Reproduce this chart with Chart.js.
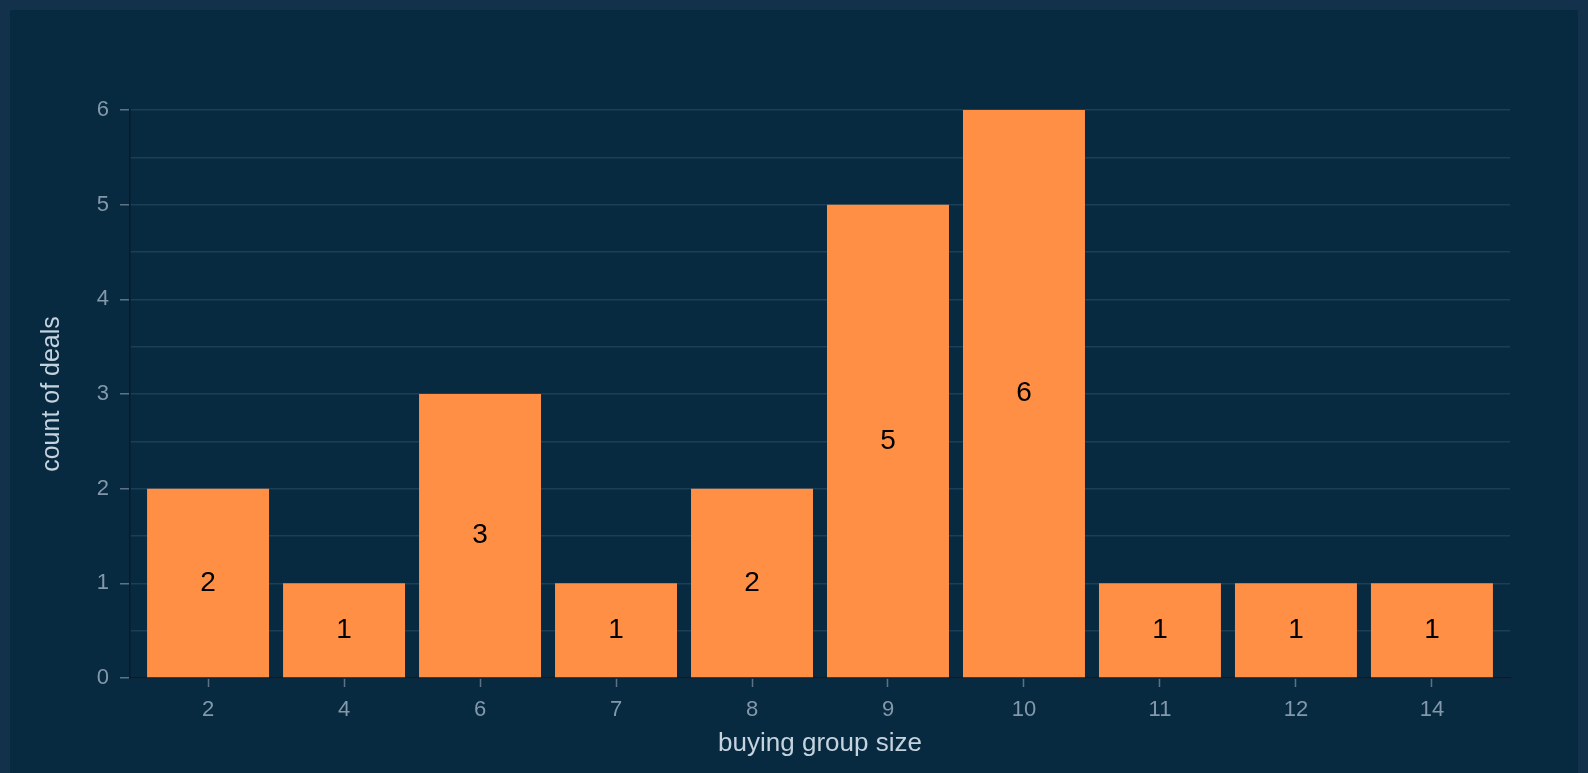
<!DOCTYPE html>
<html>
<head>
<meta charset="utf-8">
<script src="https://cdn.jsdelivr.net/npm/chart.js@4/dist/chart.umd.min.js"></script>
<style>
    html, body { margin: 0; padding: 0; background: #13314a; overflow: hidden; }
    #panel { position: absolute; left: 10px; top: 10px; width: 1568px; height: 763px; background: #072a40; }
    canvas { display: block; }
</style>
</head>
<body>
<div id="panel"><canvas id="dealsChart" width="1568" height="763"></canvas></div>
<script>
// Datos
const groupSizes = ['2', '4', '6', '7', '8', '9', '10', '11', '12', '14'];
const dealCounts = [2, 1, 3, 1, 2, 5, 6, 1, 1, 1];
const yTicks = [0, 1, 2, 3, 4, 5, 6];

const FONT = '"Liberation Sans", Arial, sans-serif';

// Etiquetas de valor en el centro de cada barra
const barValueLabels = {
    id: 'barValueLabels',
    afterDatasetsDraw(chart) {
        const ctx = chart.ctx;
        const meta = chart.getDatasetMeta(0);
        ctx.save();
        ctx.fillStyle = '#000000';
        ctx.font = '28px ' + FONT;
        ctx.textAlign = 'center';
        ctx.textBaseline = 'middle';
        meta.data.forEach((bar, i) => {
            const p = bar.getProps(['x', 'y', 'base'], true);
            ctx.fillText(dealCounts[i], p.x, (p.y + p.base) / 2);
        });
        ctx.restore();
    }
};

const canvas = document.getElementById('dealsChart');
new Chart(canvas.getContext('2d'), {
    type: 'bar',
    data: {
        datasets: [{
            data: dealCounts.map((v, i) => ({ x: i, y: v })),
            backgroundColor: '#ff8f45',
            borderWidth: 0,
            categoryPercentage: 1,
            barPercentage: 0.897
        }]
    },
    options: {
        responsive: false,
        animation: false,
        layout: { padding: { top: 100, right: 68, bottom: 0, left: 0 } },
        plugins: {
            legend: { display: false },
            tooltip: { enabled: false }
        },
        scales: {
            x: {
                type: 'linear',
                offset: false,
                min: -0.574,
                max: 9.574,
                afterBuildTicks: (scale) => {
                    scale.ticks = groupSizes.map((_, i) => ({ value: i }));
                },
                afterFit: (scale) => { scale.height = 95; },
                ticks: {
                    color: '#8398aa',
                    font: { family: FONT, size: 22 },
                    padding: 10,
                    maxRotation: 0,
                    autoSkip: false,
                    callback: (v) => groupSizes[v]
                },
                grid: { offset: false, drawOnChartArea: false, tickLength: 9, tickColor: '#5d7285', tickWidth: 1.5 },
                border: { color: '#0b1a26', width: 1.5 },
                title: {
                    display: true,
                    text: 'buying group size',
                    color: '#c5d3df',
                    font: { family: FONT, size: 26 },
                    padding: { top: 0, bottom: 14 }
                }
            },
            y: {
                min: 0,
                max: 6,
                afterFit: (scale) => { scale.width = 120; },
                ticks: {
                    stepSize: 0.5,
                    color: '#8398aa',
                    font: { family: FONT, size: 22 },
                    padding: 11,
                    callback: (v) => yTicks.includes(v) ? v : ''
                },
                grid: {
                    color: '#1c3f57',
                    lineWidth: 1.5,
                    tickLength: 10,
                    tickWidth: 1.5,
                    tickColor: (ctx) => Number.isInteger(ctx.tick.value) ? '#5d7285' : 'rgba(0,0,0,0)'
                },
                border: { color: '#0b1a26', width: 1.5 },
                title: {
                    display: true,
                    text: 'count of deals',
                    color: '#c5d3df',
                    font: { family: FONT, size: 25 },
                    padding: { top: 27, bottom: 0 }
                }
            }
        }
    },
    plugins: [barValueLabels]
});
</script>
</body>
</html>
